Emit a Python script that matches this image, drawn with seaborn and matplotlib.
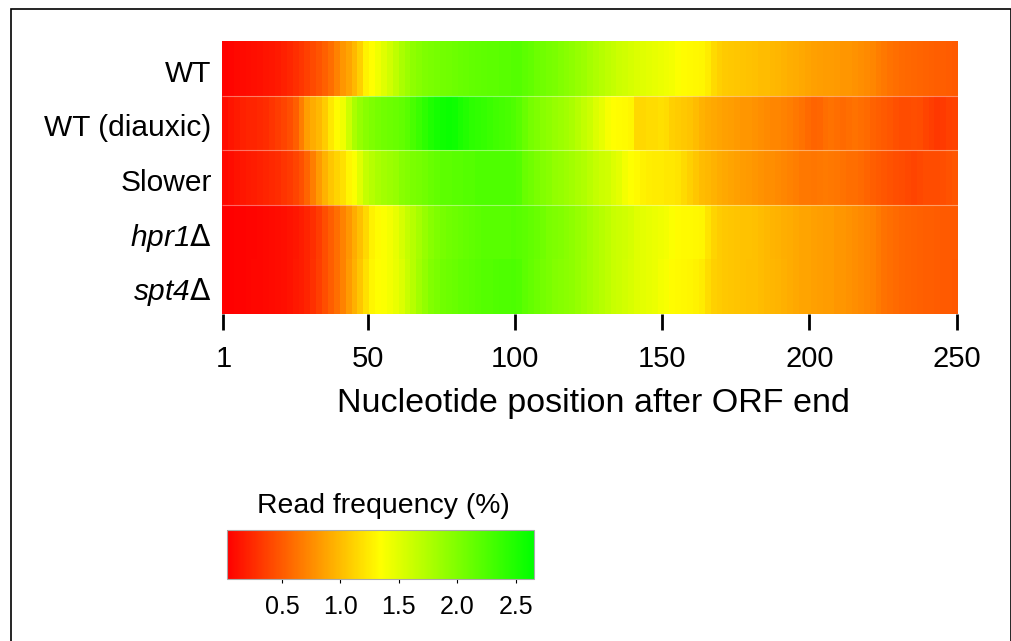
import pandas as pd
import seaborn as sns
import matplotlib.pyplot as plt
from matplotlib.colors import LinearSegmentedColormap
from matplotlib.patches import Rectangle
from matplotlib.transforms import ScaledTranslation

# read frequency (%) in 2 nt bins, starting at positions 1, 3, ... 249
positions = list(range(1, 250, 2))
wt = [.05, .06, .08, .09, .1, .11, .12, .14, .15, .17,
      .2, .23, .27, .31, .36, .41, .47, .53, .6, .7,
      .8, .88, .98, 1.1, 1.28, 1.34, 1.42, 1.5, 1.58, 1.68,
      1.78, 1.85, 1.92, 1.96, 2.0, 2.02, 2.05, 2.07, 2.08, 2.1,
      2.12, 2.13, 2.15, 2.16, 2.17, 2.18, 2.18, 2.2, 2.2, 2.22,
      2.22, 2.18, 2.15, 2.1, 2.08, 2.04, 2.02, 1.98, 1.95, 1.92,
      1.88, 1.85, 1.8, 1.76, 1.72, 1.68, 1.64, 1.6, 1.58, 1.55,
      1.52, 1.5, 1.48, 1.46, 1.44, 1.42, 1.4, 1.36, 1.33, 1.32,
      1.31, 1.3, 1.25, 1.15, 1.1, 1.07, 1.06, 1.05, 1.04, 1.03,
      1.02, 1.0, 1.0, .98, .97, .95, .93, .92, .9, .88,
      .86, .85, .84, .83, .82, .8, .8, .78, .76, .74,
      .72, .68, .65, .62, .6, .58, .57, .56, .55, .54,
      .53, .52, .52, .51, .5]
wt_diauxic = [.1, .14, .17, .2, .22, .22, .24, .26, .3, .34,
              .38, .44, .52, .68, .85, .92, .98, 1.08, 1.22, 1.33,
              1.42, 1.6, 1.78, 1.88, 1.95, 2.0, 2.05, 2.08, 2.1, 2.12,
              2.15, 2.2, 2.28, 2.35, 2.42, 2.5, 2.55, 2.58, 2.6, 2.58,
              2.52, 2.48, 2.42, 2.4, 2.38, 2.35, 2.32, 2.3, 2.28, 2.25,
              2.2, 2.12, 2.05, 2.0, 1.95, 1.92, 1.88, 1.85, 1.82, 1.78,
              1.72, 1.66, 1.6, 1.52, 1.46, 1.38, 1.34, 1.33, 1.32, 1.3,
              1.14, 1.14, 1.16, 1.16, 1.18, 1.16, 1.1, 1.08, 1.06, 1.04,
              1.0, .95, .92, .9, .88, .86, .85, .82, .8, .8,
              .78, .76, .74, .72, .72, .7, .68, .65, .62, .58,
              .55, .56, .6, .62, .6, .58, .6, .62, .6, .58,
              .54, .52, .5, .48, .45, .42, .42, .44, .42, .38,
              .35, .32, .33, .36, .37]
slower = [.08, .1, .13, .15, .17, .18, .2, .22, .24, .26,
          .3, .33, .38, .45, .55, .68, .82, .95, 1.05, 1.12,
          1.18, 1.3, 1.36, 1.5, 1.65, 1.72, 1.78, 1.82, 1.85, 1.88,
          1.95, 1.98, 2.02, 2.05, 2.08, 2.12, 2.15, 2.18, 2.18, 2.2,
          2.2, 2.22, 2.22, 2.25, 2.25, 2.25, 2.25, 2.25, 2.25, 2.25,
          2.22, 2.12, 2.08, 2.02, 1.98, 1.95, 1.9, 1.88, 1.85, 1.82,
          1.78, 1.75, 1.7, 1.65, 1.6, 1.58, 1.52, 1.48, 1.4, 1.35,
          1.32, 1.28, 1.26, 1.25, 1.24, 1.22, 1.22, 1.2, 1.15, 1.1,
          1.05, 1.0, .98, .95, .92, .9, .88, .86, .84, .82,
          .8, .78, .76, .76, .74, .72, .7, .68, .65, .65,
          .64, .65, .66, .65, .64, .62, .6, .6, .58, .55,
          .52, .5, .48, .46, .44, .42, .4, .38, .4, .42,
          .42, .42, .44, .46, .48]
hpr1 = [.03, .04, .05, .05, .06, .06, .07, .08, .09, .1,
        .11, .13, .15, .18, .22, .27, .34, .44, .52, .6,
        .7, .8, .92, 1.02, 1.14, 1.28, 1.33, 1.36, 1.4, 1.46,
        1.55, 1.65, 1.72, 1.8, 1.88, 1.95, 2.0, 2.05, 2.08, 2.1,
        2.12, 2.14, 2.16, 2.18, 2.2, 2.2, 2.2, 2.2, 2.2, 2.22,
        2.2, 2.18, 2.15, 2.12, 2.08, 2.02, 2.0, 1.98, 1.95, 1.92,
        1.88, 1.85, 1.8, 1.76, 1.72, 1.68, 1.62, 1.6, 1.58, 1.55,
        1.5, 1.48, 1.46, 1.44, 1.42, 1.4, 1.36, 1.33, 1.32, 1.32,
        1.31, 1.3, 1.2, 1.12, 1.08, 1.06, 1.05, 1.04, 1.03, 1.03,
        1.02, 1.0, .98, .96, .95, .93, .92, .9, .88, .88,
        .86, .85, .84, .83, .8, .8, .78, .76, .74, .72,
        .7, .66, .62, .6, .58, .56, .55, .54, .53, .52,
        .52, .51, .5, .5, .5]
spt4 = [.03, .04, .05, .05, .06, .07, .07, .08, .09, .1,
        .11, .13, .16, .18, .22, .28, .35, .44, .52, .6,
        .7, .82, .94, 1.05, 1.18, 1.3, 1.34, 1.36, 1.4, 1.45,
        1.52, 1.62, 1.72, 1.82, 1.9, 1.98, 2.02, 2.08, 2.1, 2.12,
        2.15, 2.16, 2.18, 2.2, 2.22, 2.22, 2.24, 2.25, 2.25, 2.26,
        2.24, 2.18, 2.14, 2.1, 2.06, 2.02, 1.98, 1.96, 1.94, 1.92,
        1.88, 1.84, 1.8, 1.76, 1.72, 1.68, 1.62, 1.6, 1.57, 1.54,
        1.5, 1.48, 1.46, 1.44, 1.4, 1.38, 1.33, 1.32, 1.31, 1.3,
        1.28, 1.24, 1.16, 1.1, 1.08, 1.06, 1.05, 1.04, 1.03, 1.02,
        1.02, 1.0, .98, .97, .96, .94, .92, .9, .88, .88,
        .86, .85, .84, .83, .8, .8, .78, .76, .74, .72,
        .7, .66, .62, .6, .58, .56, .55, .54, .53, .52,
        .52, .51, .5, .5, .49]
row_labels = ['WT', 'WT (diauxic)', 'Slower', r'$\mathrm{hpr1}\mathbf{\Delta}$', r'$\mathrm{spt4}\mathbf{\Delta}$']
x_ticks = [1, 50, 100, 150, 200, 250]
bar_ticks = [0.5, 1.0, 1.5, 2.0, 2.5]

plt.rcParams['font.family'] = ['Liberation Sans', 'DejaVu Sans']
# italic gene name with an upright delta
plt.rcParams['mathtext.fontset'] = 'custom'
plt.rcParams['mathtext.rm'] = 'Liberation Sans:italic'
plt.rcParams['mathtext.bf'] = 'DejaVu Sans'

W, H = 1012, 641
fig = plt.figure(figsize=(W / 100, H / 100), dpi=100)
fig.add_artist(Rectangle((11 / W, -0.1), 1000 / W, 1.1 - 9 / H, transform=fig.transFigure,
                         fill=False, edgecolor='black', linewidth=1.2))

ax = fig.add_axes([222 / W, 1 - 314 / H, 736 / W, 273 / H])
cax = fig.add_axes([227 / W, 1 - 579 / H, 307 / W, 49 / H])

cmap = LinearSegmentedColormap.from_list('ryg', ['#ff0000', '#ffff00', '#00ff00'], N=256)
df = pd.DataFrame([wt, wt_diauxic, slower, hpr1, spt4], index=row_labels, columns=positions)
sns.heatmap(df, ax=ax, cmap=cmap, vmin=0.03, vmax=2.655, cbar_ax=cax,
            cbar_kws={'orientation': 'horizontal'}, xticklabels=False, yticklabels=True)

# heatmap cells are 2 nt wide
ax.set_xticks([(p - 0.5) / 2 for p in x_ticks])
ax.set_xticklabels(x_ticks, fontsize=21)
ax.tick_params(axis='x', length=11.5, width=2, pad=10.5, color='black')
ax.tick_params(axis='y', length=0, pad=7.5, labelsize=21.5, rotation=0)
ax.set_xlabel('Nucleotide position after ORF end', fontsize=24.5, labelpad=11, x=0.504)
ax.set_ylabel('')
ax.hlines([1, 2, 3], 0, len(positions), color='white', alpha=0.4, linewidth=0.8)
for label in ax.get_yticklabels():
    label.set_transform(label.get_transform() + ScaledTranslation(0, -4 / 72, fig.dpi_scale_trans))

cbar = ax.collections[0].colorbar
cbar.set_ticks(bar_ticks)
cbar.set_ticklabels(['%.1f' % t for t in bar_ticks])
cbar.ax.tick_params(length=3, width=0.8, labelsize=18, pad=8.5)
cbar.outline.set_edgecolor('#aaaaaa')
cbar.outline.set_linewidth(0.8)
fig.text(383 / W, 1 - 506 / H, 'Read frequency (%)', fontsize=20.4, ha='center', va='center')

fig.savefig('out.png', dpi=100)
